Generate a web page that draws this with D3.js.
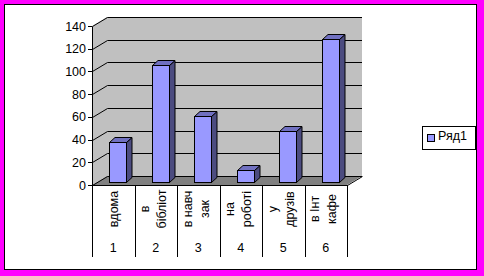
<!DOCTYPE html>
<html>
<head>
<meta charset="utf-8">
<script src="https://cdn.jsdelivr.net/npm/d3@7"></script>
<style>
body { margin: 0; }
svg { display: block; font-family: "Liberation Sans", Arial, sans-serif; }
</style>
</head>
<body>
<div id="graphic"></div>
<script>
const categories = ["1", "2", "3", "4", "5", "6"]
const catLabels = [["вдома"], ["в", "бібліот"], ["в навч", "зак"], ["на", "роботі"], ["у", "друзів"], ["в Інт", "кафе"]]
const values = [35, 103, 58, 11, 45, 126]
const yTicks = [0, 20, 40, 60, 80, 100, 120, 140]
const seriesName = "Ряд1"

const W = 484, H = 276
// 3d depth of the plot box and of the bars
const depth = { dx: 15, dy: -9 }
const barDepth = { dx: 5.5, dy: -5 }

let svg = d3.select("#graphic").append("svg")
    .attr("width", W)
    .attr("height", H)
    .style("font-size", "12.5px")

// magenta frame + white chart area
svg.append("rect").attr("width", W).attr("height", H).attr("fill", "#ff00ff")
svg.append("rect")
    .attr("x", 4.5).attr("y", 4.5)
    .attr("width", 472).attr("height", 265)
    .attr("fill", "#ffffff")
    .attr("stroke", "#000")

let x = d3.scaleBand()
    .domain(categories)
    .range([92, 347])

let y = d3.scaleLinear()
    .domain([0, 140])
    .range([185, 26])

const x0 = x.range()[0], x1 = x.range()[1]
const yb = y(0), yt = y(140)
const pts = p => p.map(d => d.join(",")).join(" ")

// left wall
svg.append("polygon")
    .attr("points", pts([[x0, yb], [x0, yt], [x0 + depth.dx, yt + depth.dy], [x0 + depth.dx, yb + depth.dy]]))
    .attr("fill", "#c0c0c0")
// back wall
svg.append("rect")
    .attr("x", x0 + depth.dx).attr("y", yt + depth.dy)
    .attr("width", x1 - x0).attr("height", yb - yt)
    .attr("fill", "#c0c0c0")
// floor
svg.append("polygon")
    .attr("points", pts([[x0, yb], [x1, yb], [x1 + depth.dx, yb + depth.dy], [x0 + depth.dx, yb + depth.dy]]))
    .attr("fill", "#808080")

// gridlines across the left wall and back wall
svg.selectAll(null)
    .data(yTicks)
    .enter().append("polyline")
    .attr("points", function (d) {
        let yy = Math.round(y(d)) + 0.5
        return pts([[x0 + 0.5, yy], [x0 + depth.dx + 0.5, yy + depth.dy], [x1 + depth.dx, yy + depth.dy]])
    })
    .attr("fill", "none")
    .attr("stroke", "#000")

// floor right edge
svg.append("line")
    .attr("x1", x1 + 0.5).attr("y1", Math.round(yb) + 0.5)
    .attr("x2", x1 + depth.dx + 0.5).attr("y2", Math.round(yb) + 0.5 + depth.dy)
    .attr("stroke", "#000")

// bars
let bars = svg.selectAll(null)
    .data(values)
    .enter().append("g")

function barGeom(d, i) {
    let left = Math.round(x(categories[i]) + 17.3) + 0.5
    let right = left + 17
    let bottom = Math.round(y(0) - 3) + 0.5
    let top = Math.round(y(d) - 3) + 0.5
    return { left, right, bottom, top }
}

bars.append("polygon")
    .attr("points", function (d, i) {
        let g = barGeom(d, i)
        return pts([[g.right, g.bottom], [g.right, g.top], [g.right + barDepth.dx, g.top + barDepth.dy], [g.right + barDepth.dx, g.bottom + barDepth.dy]])
    })
    .attr("fill", "#4c4c80")
    .attr("stroke", "#000")
    .attr("stroke-linejoin", "round")

bars.append("polygon")
    .attr("points", function (d, i) {
        let g = barGeom(d, i)
        return pts([[g.left, g.top], [g.right, g.top], [g.right + barDepth.dx, g.top + barDepth.dy], [g.left + barDepth.dx, g.top + barDepth.dy]])
    })
    .attr("fill", "#7070c0")
    .attr("stroke", "#000")
    .attr("stroke-linejoin", "round")

bars.append("rect")
    .attr("x", (d, i) => barGeom(d, i).left)
    .attr("y", (d, i) => barGeom(d, i).top)
    .attr("width", 17)
    .attr("height", (d, i) => barGeom(d, i).bottom - barGeom(d, i).top)
    .attr("fill", "#9999ff")
    .attr("stroke", "#000")

// value axis
svg.append("line")
    .attr("x1", x0 + 0.5).attr("y1", Math.round(yt) + 0.5)
    .attr("x2", x0 + 0.5).attr("y2", Math.round(yb) + 0.5)
    .attr("stroke", "#000")

svg.selectAll(null)
    .data(yTicks)
    .enter().append("line")
    .attr("x1", x0 - 4).attr("x2", x0)
    .attr("y1", d => Math.round(y(d)) + 0.5)
    .attr("y2", d => Math.round(y(d)) + 0.5)
    .attr("stroke", "#000")

svg.selectAll(null)
    .data(yTicks)
    .enter().append("text")
    .attr("x", x0 - 6)
    .attr("y", d => y(d) + 4.5)
    .attr("text-anchor", "end")
    .text(d => d)

// category axis: base line and table-like separators
svg.append("line")
    .attr("x1", x0).attr("x2", x1 + 1)
    .attr("y1", Math.round(yb) + 0.5).attr("y2", Math.round(yb) + 0.5)
    .attr("stroke", "#000")

svg.selectAll(null)
    .data(categories.map(c => x(c)).concat([x1]))
    .enter().append("line")
    .attr("x1", d => Math.round(d) + 0.5)
    .attr("x2", d => Math.round(d) + 0.5)
    .attr("y1", Math.round(yb))
    .attr("y2", 257)
    .attr("stroke", "#000")

let catGroups = svg.selectAll(null)
    .data(catLabels)
    .enter().append("g")
    .attr("transform", (d, i) => "translate(" + (x(categories[i]) + x.bandwidth() / 2) + ",209) rotate(-90)")

catGroups.selectAll("text")
    .data(d => d.map((t, j) => ({ t: t, j: j, n: d.length })))
    .enter().append("text")
    .attr("x", 0)
    .attr("y", d => (d.j - (d.n - 1) / 2) * 17 + (d.n === 1 ? 4.5 : 2))
    .attr("text-anchor", "middle")
    .text(d => d.t)

svg.selectAll(null)
    .data(categories)
    .enter().append("text")
    .attr("x", d => x(d) + x.bandwidth() / 2)
    .attr("y", 252)
    .attr("text-anchor", "middle")
    .text(d => d)

// legend
let legend = svg.append("g")
legend.append("rect")
    .attr("x", 422.5).attr("y", 126.5)
    .attr("width", 53).attr("height", 23)
    .attr("fill", "#fff")
    .attr("stroke", "#000")
legend.append("rect")
    .attr("x", 427.5).attr("y", 134.5)
    .attr("width", 7).attr("height", 7)
    .attr("fill", "#9999ff")
    .attr("stroke", "#000")
legend.append("text")
    .attr("x", 438).attr("y", 140)
    .text(seriesName)
</script>
</body>
</html>
